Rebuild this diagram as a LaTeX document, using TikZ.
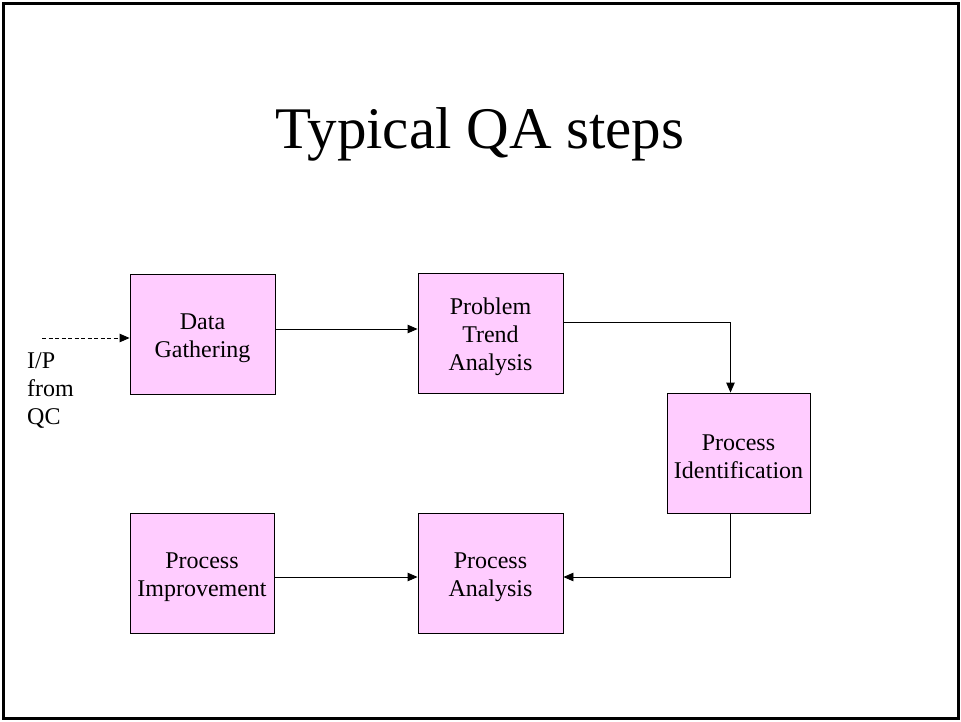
\documentclass[tikz,border=0pt]{standalone}
\usepackage{fontspec}
\setmainfont{Liberation Serif}
\usetikzlibrary{arrows.meta}
\definecolor{boxpink}{HTML}{FFCCFF}
\tikzset{
  boxtext/.style={inner sep=0pt, align=center, font=\fontsize{24}{28}\selectfont, yshift=-4pt},
  stepbox/.style={draw=black, line width=0.9pt, fill=boxpink, minimum width=145pt, minimum height=120pt,
    inner sep=0pt, label={[boxtext]center:{#1}}},
  arr/.style={line width=0.9pt, -{Triangle[length=10pt,width=8.5pt]}},
  lbl/.style={font=\fontsize{24}{28}\selectfont, inner sep=0pt, align=left}
}
\begin{document}
\begin{tikzpicture}[x=1pt,y=-1pt]
\useasboundingbox (0,0) rectangle (961,721);
\draw[line width=2.2pt] (3.5,3.5) rectangle (958.5,718.5);
\node[font=\fontsize{59}{66}\selectfont, inner sep=0pt, anchor=base] (title) at (480,148) {Typical QA steps};
\node[stepbox={Data\\Gathering}] (dg) at (202.5,334) {};
\node[stepbox={Problem\\Trend\\Analysis}] (pta) at (490.5,333) {};
\node[stepbox={Process\\Identification}, minimum width=143pt] (pi) at (738.5,453) {};
\node[stepbox={Process\\Improvement}, minimum width=144pt] (pimp) at (202,573) {};
\node[stepbox={Process\\Analysis}] (pa) at (490.5,573) {};
\node[lbl, anchor=north west] (inp) at (27,352) {I/P\\from\\QC};
\coordinate (src) at (42,338);
\coordinate (dgout) at ([yshift=5pt]dg.east);
\draw[arr, dashed, dash pattern=on 4pt off 2.5pt] (src) -- (src -| dg.west);
\draw[arr] (dgout) -- (dgout -| pta.west);
\draw[arr] ([yshift=11pt]pta.east) -| ([xshift=-8pt]pi.north);
\draw[arr] ([xshift=-8pt]pi.south) |- ([yshift=-4pt]pa.east);
\draw[arr] ([yshift=-4pt]pimp.east) -- ([yshift=-4pt]pa.west);
\end{tikzpicture}
\end{document}
